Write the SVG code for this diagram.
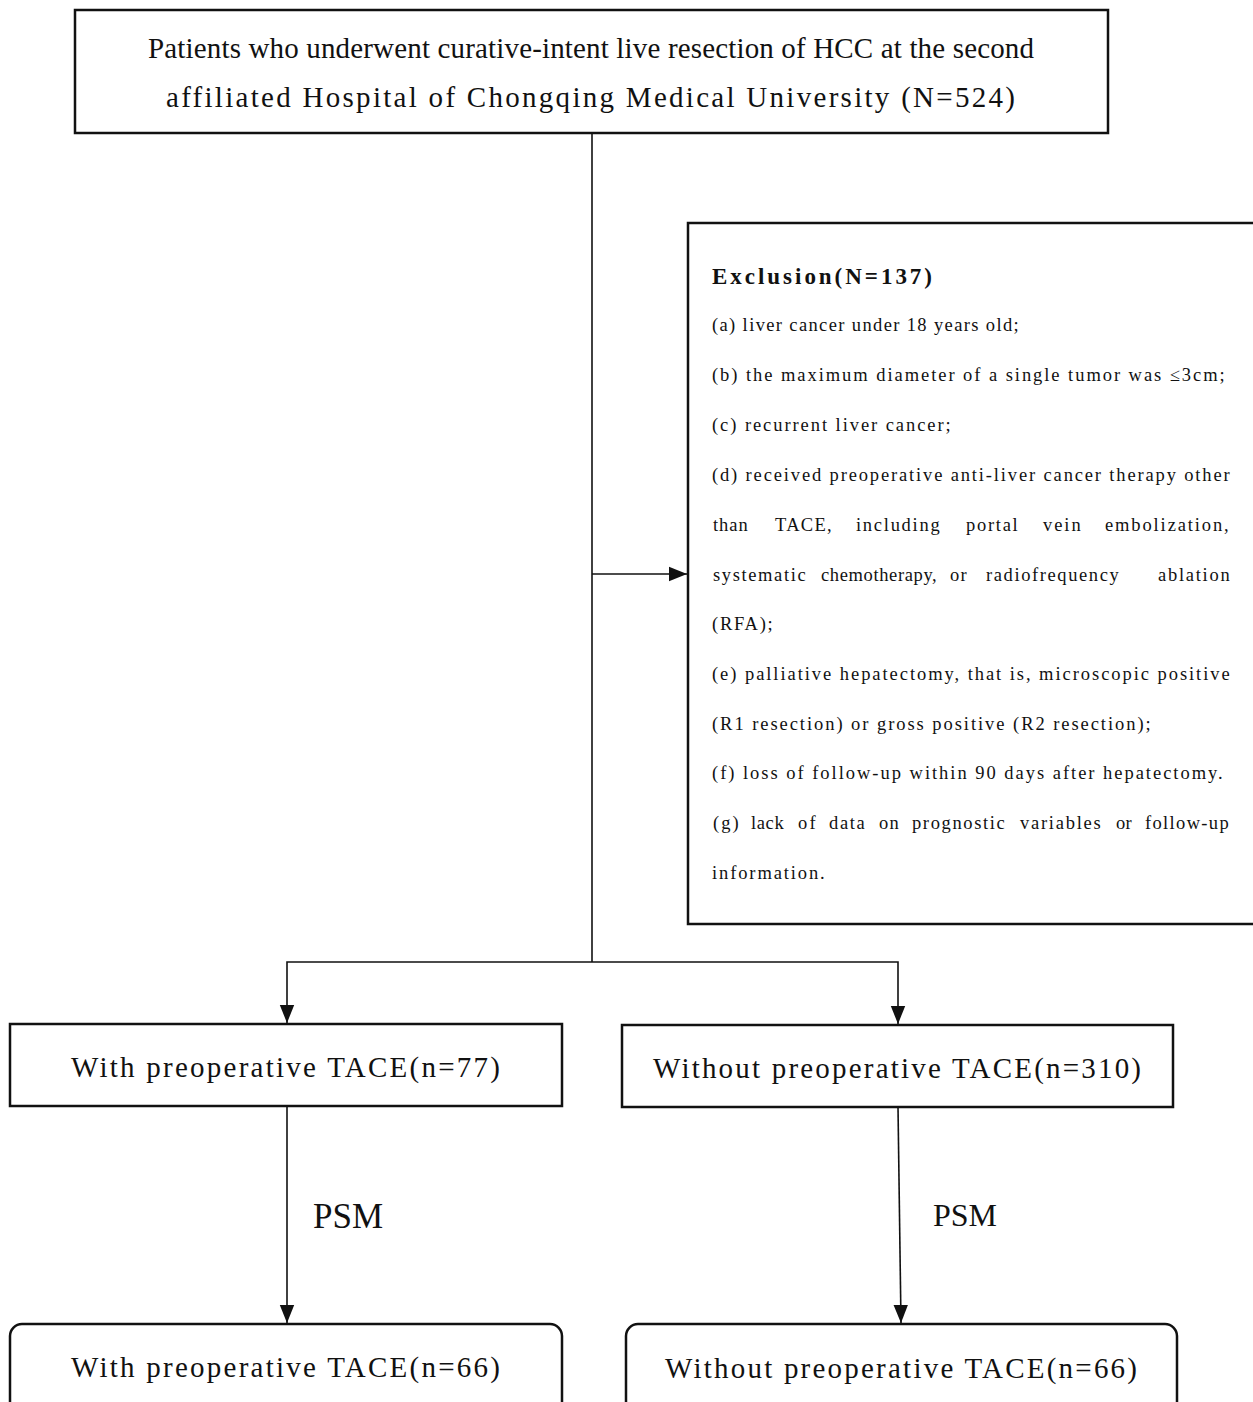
<svg xmlns="http://www.w3.org/2000/svg" width="1253" height="1402" viewBox="0 0 1253 1402">
<style>
.box{fill:#fff;stroke:#111;stroke-width:2.5}
.ln{fill:none;stroke:#111;stroke-width:1.6}
.t{font-family:"Liberation Serif","Times New Roman",serif;fill:#111}
.big{font-size:29px}
.ex{font-size:18.5px;letter-spacing:1.3px}
.psm{font-size:35px}
</style>
<defs>
<marker id="ah" viewBox="0 0 10 10" refX="10" refY="5" markerWidth="18" markerHeight="18" markerUnits="userSpaceOnUse" orient="auto">
<path d="M0,1 L10,5 L0,9 Z" fill="#111"/>
</marker>
</defs>
<rect width="1253" height="1402" fill="#fff"/>
<g id="connectors">
<line class="ln" x1="592" y1="133" x2="592" y2="962"/>
<line class="ln" x1="592" y1="574" x2="687" y2="574" marker-end="url(#ah)"/>
<polyline class="ln" points="592,962 287,962 287,1023" marker-end="url(#ah)"/>
<polyline class="ln" points="592,962 898,962 898,1024" marker-end="url(#ah)"/>
<line class="ln" x1="287" y1="1106" x2="287" y2="1323" marker-end="url(#ah)"/>
<line class="ln" x1="898" y1="1107" x2="901" y2="1323" marker-end="url(#ah)"/>
<text class="t psm" x="313" y="1228">PSM</text>
<text class="t" style="font-size:32px" x="933" y="1226">PSM</text>
</g>
<g id="n_top">
<rect class="box" x="75" y="10" width="1033" height="123"/>
<text class="t big" x="148" y="58" textLength="886" lengthAdjust="spacing">Patients who underwent curative-intent live resection of HCC at the second</text>
<text class="t big" x="166" y="107" textLength="849" lengthAdjust="spacing">affiliated Hospital of Chongqing Medical University (N=524)</text>
</g>
<g id="n_exclusion">
<rect class="box" x="688" y="223" width="575" height="701"/>
<text class="t" style="font-size:23px;font-weight:bold" x="712" y="284" textLength="220" lengthAdjust="spacing">Exclusion(N=137)</text>
<text class="t ex" x="712" y="331" textLength="308" lengthAdjust="spacing">(a) liver cancer under 18 years old;</text>
<text class="t ex" x="712" y="381" textLength="514" lengthAdjust="spacing">(b) the maximum diameter of a single tumor was ≤3cm;</text>
<text class="t ex" x="712" y="431" textLength="240" lengthAdjust="spacing">(c) recurrent liver cancer;</text>
<text class="t ex" x="712" y="481" textLength="519" lengthAdjust="spacing">(d) received preoperative anti-liver cancer therapy other</text>
<text class="t ex" x="713" y="531" textLength="36" lengthAdjust="spacing">than</text>
<text class="t ex" x="775" y="531" textLength="58" lengthAdjust="spacing">TACE,</text>
<text class="t ex" x="856" y="531" textLength="85" lengthAdjust="spacing">including</text>
<text class="t ex" x="966" y="531" textLength="53" lengthAdjust="spacing">portal</text>
<text class="t ex" x="1043" y="531" textLength="39" lengthAdjust="spacing">vein</text>
<text class="t ex" x="1105" y="531" textLength="125" lengthAdjust="spacing">embolization,</text>
<text class="t ex" x="713" y="581" textLength="94" lengthAdjust="spacing">systematic</text>
<text class="t ex" x="821" y="581" textLength="117" lengthAdjust="spacing">chemotherapy,</text>
<text class="t ex" x="950" y="581" textLength="18" lengthAdjust="spacing">or</text>
<text class="t ex" x="986" y="581" textLength="134" lengthAdjust="spacing">radiofrequency</text>
<text class="t ex" x="1158" y="581" textLength="73" lengthAdjust="spacing">ablation</text>
<text class="t ex" x="712" y="630" textLength="62" lengthAdjust="spacing">(RFA);</text>
<text class="t ex" x="712" y="680" textLength="519" lengthAdjust="spacing">(e) palliative hepatectomy, that is, microscopic positive</text>
<text class="t ex" x="712" y="730" textLength="440" lengthAdjust="spacing">(R1 resection) or gross positive (R2 resection);</text>
<text class="t ex" x="712" y="779" textLength="512" lengthAdjust="spacing">(f) loss of follow-up within 90 days after hepatectomy.</text>
<text class="t ex" x="713" y="829" textLength="27" lengthAdjust="spacing">(g)</text>
<text class="t ex" x="751" y="829" textLength="34" lengthAdjust="spacing">lack</text>
<text class="t ex" x="798" y="829" textLength="19" lengthAdjust="spacing">of</text>
<text class="t ex" x="829" y="829" textLength="37" lengthAdjust="spacing">data</text>
<text class="t ex" x="879" y="829" textLength="21" lengthAdjust="spacing">on</text>
<text class="t ex" x="912" y="829" textLength="94" lengthAdjust="spacing">prognostic</text>
<text class="t ex" x="1020" y="829" textLength="82" lengthAdjust="spacing">variables</text>
<text class="t ex" x="1116" y="829" textLength="17" lengthAdjust="spacing">or</text>
<text class="t ex" x="1145" y="829" textLength="85" lengthAdjust="spacing">follow-up</text>
<text class="t ex" x="712" y="879" textLength="114" lengthAdjust="spacing">information.</text>
</g>
<g id="n_with77">
<rect class="box" x="10" y="1024" width="552" height="82"/>
<text class="t big" x="71" y="1077" textLength="429" lengthAdjust="spacing">With preoperative TACE(n=77)</text>
</g>
<g id="n_without310">
<rect class="box" x="622" y="1025" width="551" height="82"/>
<text class="t big" x="653" y="1078" textLength="488" lengthAdjust="spacing">Without preoperative TACE(n=310)</text>
</g>
<g id="n_with66">
<rect class="box" x="10" y="1324" width="552" height="92" rx="12"/>
<text class="t big" x="71" y="1377" textLength="429" lengthAdjust="spacing">With preoperative TACE(n=66)</text>
</g>
<g id="n_without66">
<rect class="box" x="626" y="1324" width="551" height="92" rx="12"/>
<text class="t big" x="665" y="1378" textLength="472" lengthAdjust="spacing">Without preoperative TACE(n=66)</text>
</g>
</svg>
